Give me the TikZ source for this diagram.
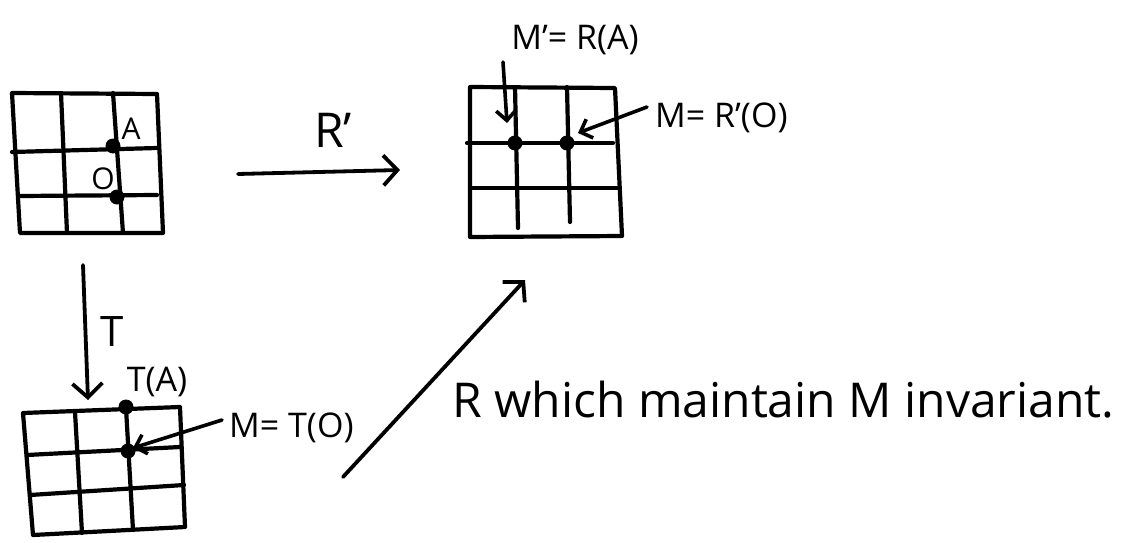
\documentclass[tikz,border=0pt]{standalone}
\usepackage{fontspec}
\setmainfont{Open Sans}
\usetikzlibrary{arrows.meta}
\begin{document}
\begin{tikzpicture}[x=1pt,y=-1pt, line cap=round, line join=round,
  ln/.style={line width=4.2pt},
  bigarr/.style={line width=3.8pt, -{Straight Barb[length=14pt,width=30pt]}},
  smallarr/.style={line width=3.6pt, -{Straight Barb[length=10pt,width=20pt]}},
  dotn/.style={circle, fill, inner sep=0pt, minimum size=15pt},
  smalllbl/.style={inner sep=0pt, font=\fontsize{30}{32}\selectfont},
  lbl/.style={inner sep=0pt, font=\fontsize{34}{36}\selectfont},
  midlbl/.style={inner sep=0pt, font=\fontsize{42}{46}\selectfont},
  biglbl/.style={inner sep=0pt, font=\fontsize{48}{52}\selectfont}]
\useasboundingbox (0,0) rectangle (1132,543);

% ---- grid 1 (top left)
\draw[ln] (12,93) -- (157,94) -- (163,233) -- (20,233) -- cycle;
\draw[ln] (12,152) -- (157,148);
\draw[ln] (20,196) -- (157,195);
\draw[ln] (61,93) -- (67,233);
\draw[ln] (113,93) -- (123,233);
\node[dotn] (A) at (113,146) {};
\node[dotn] (O) at (117,197) {};
\node[smalllbl] (Alab) at (131,129) {A};
\node[smalllbl] (Olab) at (103,179) {O};

% ---- grid 2 (top middle)
\draw[ln] (470,87) -- (615,88) -- (622,236) -- (470,237) -- cycle;
\draw[ln] (467,143) -- (613,143);
\draw[ln] (470,188) -- (617,188);
\draw[ln] (515,87) -- (518,228);
\draw[ln] (567,87) -- (570,222);
\node[dotn] (Mp) at (515,143) {};
\node[dotn] (Mr) at (567,143) {};
\node[lbl] (Mplab) at (575,40) {M'= R(A)};
\node[lbl, anchor=west] (Mrlab) at (655,118) {M= R'(O)};
\coordinate (mpa) at (503,62);
\coordinate (mpb) at (507,123);
\draw[smallarr] (mpa) -- (mpb);
\coordinate (mra) at (647,107);
\coordinate (mrb) at (578,133);
\draw[smallarr] (mra) -- (mrb);

% ---- grid 3 (bottom left)
\draw[ln] (23,413) -- (180,407) -- (185,527) -- (33,535) -- cycle;
\draw[ln] (27,455) -- (180,447);
\draw[ln] (30,495) -- (184,485);
\draw[ln] (75,412) -- (82,533);
\draw[ln] (126,408) -- (133,530);
\node[dotn] (TA) at (126,407) {};
\node[dotn] (MT) at (128,451) {};
\node[lbl] (TAlab) at (157,382) {T(A)};
\node[lbl, anchor=west] (MTlab) at (229,428) {M= T(O)};
\coordinate (mta) at (222,420);
\coordinate (mtb) at (133,448);
\draw[smallarr] (mta) -- (mtb);

% ---- main arrows
\coordinate (rpa) at (238,174);
\coordinate (rpb) at (400,170);
\draw[bigarr] (rpa) -- (rpb);
\node[biglbl] (Rplab) at (333,130) {R'};

\coordinate (ta) at (83,265);
\coordinate (tb) at (88,400);
\draw[bigarr] (ta) -- (tb);
\node[midlbl] (Tlab) at (112,332) {T};

\coordinate (ra) at (343,477);
\coordinate (rb) at (525,280);
\draw[bigarr] (ra) -- (rb);
\node[biglbl, anchor=west] (Rtext) at (452,400) {R which maintain M invariant.};
\end{tikzpicture}
\end{document}
